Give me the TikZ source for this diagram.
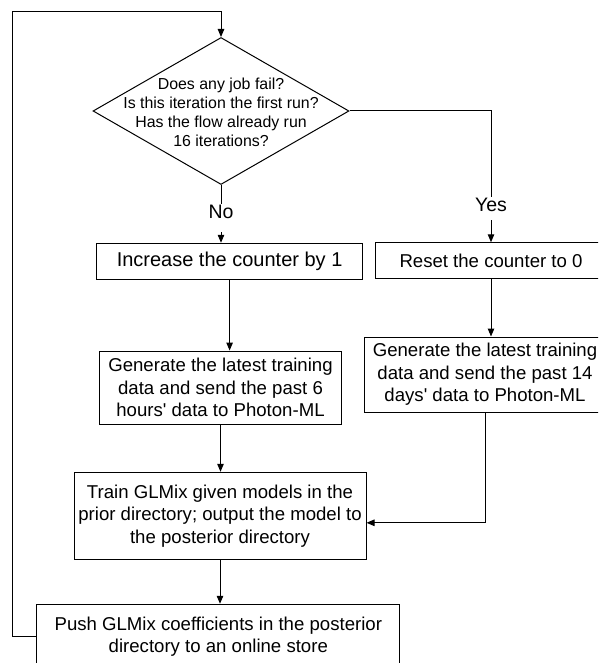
\documentclass[tikz,border=0pt]{standalone}
\usepackage{fontspec}
\setmainfont{Liberation Sans}
\usetikzlibrary{shapes.geometric,arrows.meta}
\begin{document}
\begin{tikzpicture}[x=1pt, y=-1pt, line width=1pt, >={Triangle[length=8pt,width=6.5pt]},
        box/.style = {draw, rectangle, inner sep=0pt, align=center, font=\fontsize{18.6}{22.5}\selectfont},
        dec/.style = {draw, diamond, inner sep=0pt, minimum width=256pt, minimum height=147pt},
        lbl/.style = {inner sep=1pt, font=\fontsize{19.5}{22}\selectfont}]
        \useasboundingbox (0,0) rectangle (598,663);
        \clip (0,0) rectangle (598,663);
        \node[dec] (q) at (221,111) {};
        \node[align=center, inner sep=0pt, font=\fontsize{15.9}{19}\selectfont] (qt) at (221,112)
          {Does any job fail?\\Is this iteration the first run?\\Has the flow already run\\16 iterations?};
        \node[lbl] (no) at (221,212) {No};
        \node[lbl] (yes) at (491,205) {Yes};
        \node[box, minimum width=266pt, minimum height=36pt, font=\fontsize{20}{24}\selectfont] (inc) at (229.6,261.3) {Increase the counter by 1};
        \node[box, minimum width=232pt, minimum height=35.3pt] (reset) at (491,260.4) {Reset the counter to 0};
        \node[box, minimum width=242.4pt, minimum height=73.3pt] (genl) at (220.5,387.7)
          {Generate the latest training\\data and send the past 6\\hours\textquotesingle{} data to Photon-ML};
        \node[box, minimum width=242pt, minimum height=75pt] (genr) at (485,374.5)
          {Generate the latest training\\data and send the past 14\\days\textquotesingle{} data to Photon-ML};
        \node[box, minimum width=292pt, minimum height=87pt] (train) at (220,515.8)
          {Train GLMix given models in the\\prior directory; output the model to\\the posterior directory};
        \node[box, minimum width=363.3pt, minimum height=64.5pt] (push) at (218.3,636.5)
          {Push GLMix coefficients in the posterior\\directory to an online store};
        \coordinate (back) at (12.3,11.7);
        \coordinate (turn) at (491,111);
        %
        \draw (q.south) -- (no);
        \draw[->, shorten <=12pt] (no) -- (no |- inc.north);
        \draw (q.east) -- (turn) -- (yes);
        \draw[->, shorten <=7pt] (yes) -- (yes |- reset.north);
        \draw[->] (inc.south) -- (inc.south |- genl.north);
        \draw[->] (reset.south) -- (reset.south |- genr.north);
        \draw[->] (genl.south) -- (genl.south |- train.north);
        \draw[->] (genr.south) |- ([yshift=-7pt]train.east);
        \draw[->] (train.south) -- (train.south |- push.north);
        \draw[->] (push.west) -| (back) -| (q.north);
\end{tikzpicture}
\end{document}
